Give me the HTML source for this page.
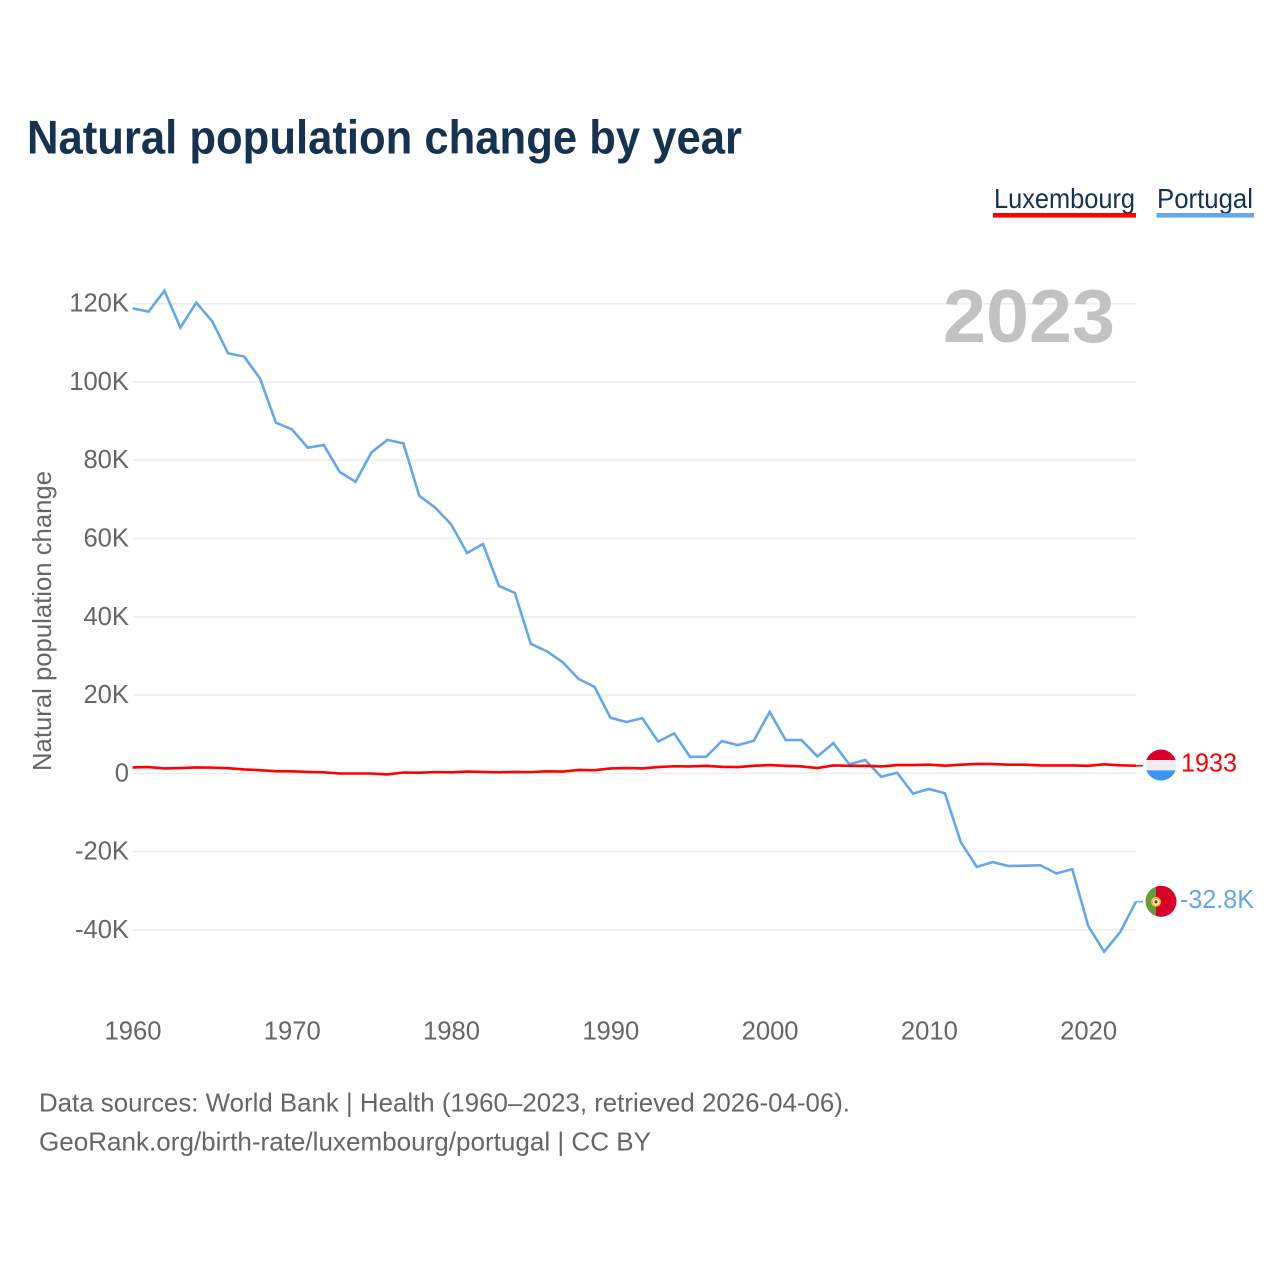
<!DOCTYPE html>
<html lang="en">
<head>
<meta charset="utf-8">
<title>Natural population change by year</title>
<style>
html,body{margin:0;padding:0;background:#fff;}
svg{display:block;font-family:"Liberation Sans",sans-serif;}
</style>
</head>
<body>
<svg id="chart" xmlns="http://www.w3.org/2000/svg" width="1280" height="1280" viewBox="0 0 1280 1280">
  <defs>
    <clipPath id="lux-clip"><circle id="lux-clip-circle" cx="1161" cy="765" r="15.5"/></clipPath>
    <clipPath id="prt-clip"><circle id="prt-clip-circle" cx="1161" cy="901" r="15.5"/></clipPath>
  </defs>
  <rect width="1280" height="1280" fill="#ffffff"/>
  <text x="27" y="153.5" font-size="47.6" font-weight="700" fill="#16324f" textLength="715" lengthAdjust="spacingAndGlyphs">Natural population change by year</text>

  <g>
    <g>
      <text x="994" y="208" font-size="27.5" fill="#16324f" textLength="141" lengthAdjust="spacingAndGlyphs">Luxembourg</text>
      <rect x="993" y="213" width="143" height="4.6" fill="#ff0000"/>
    </g>
    <g>
      <text x="1157" y="208" font-size="27.5" fill="#16324f" textLength="96" lengthAdjust="spacingAndGlyphs">Portugal</text>
      <rect x="1156.5" y="213" width="97.5" height="4.6" fill="#63a7ec"/>
    </g>
  </g>

  <g id="grid"></g>
  <g id="y-ticks"></g>
  <g id="x-ticks"></g>

  <text transform="translate(51,621) rotate(-90)" text-anchor="middle" font-size="25.6" fill="#666666" textLength="300" lengthAdjust="spacingAndGlyphs">Natural population change</text>

  <text x="943" y="342" font-size="75" font-weight="700" fill="#c2c2c2" textLength="172" lengthAdjust="spacingAndGlyphs">2023</text>

  <g id="series"></g>

  <g id="flag-lux">
    <g clip-path="url(#lux-clip)">
      <rect x="1145" y="749" width="32" height="11" fill="#d8002a"/>
      <rect x="1145" y="760" width="32" height="10.3" fill="#eeeeee"/>
      <rect x="1145" y="770.3" width="32" height="11" fill="#3a96f5"/>
    </g>
  </g>
  <g id="flag-prt">
    <g clip-path="url(#prt-clip)">
      <rect x="1145" y="885" width="12" height="32" fill="#6b9a3c"/>
      <rect x="1156" y="885" width="22" height="32" fill="#d8002a"/>
    </g>
    <circle cx="1156" cy="901.5" r="4" fill="#ffffff" stroke="#f2c230" stroke-width="2"/>
    <circle cx="1156" cy="901.5" r="1.6" fill="#d8002a"/>
  </g>
  <text id="label-lux" x="1181" y="771.5" font-size="25.6" fill="#ff0000" textLength="56" lengthAdjust="spacingAndGlyphs"></text>
  <text id="label-prt" x="1180" y="907.5" font-size="25.6" fill="#63a7ec" textLength="74" lengthAdjust="spacingAndGlyphs"></text>

  <g>
    <text x="39" y="1111.5" font-size="25.6" fill="#666666" textLength="811" lengthAdjust="spacingAndGlyphs">Data sources: World Bank | Health (1960–2023, retrieved 2026-04-06).</text>
    <text x="39" y="1150.5" font-size="25.6" fill="#666666" textLength="612" lengthAdjust="spacingAndGlyphs">GeoRank.org/birth-rate/luxembourg/portugal | CC BY</text>
  </g>
</svg>

<script>
const years = [1960,1961,1962,1963,1964,1965,1966,1967,1968,1969,1970,1971,1972,1973,1974,1975,1976,1977,1978,1979,1980,1981,1982,1983,1984,1985,1986,1987,1988,1989,1990,1991,1992,1993,1994,1995,1996,1997,1998,1999,2000,2001,2002,2003,2004,2005,2006,2007,2008,2009,2010,2011,2012,2013,2014,2015,2016,2017,2018,2019,2020,2021,2022,2023];
const portugalValues = [118800,118000,123300,113900,120300,115500,107300,106500,100900,89600,87900,83200,83900,77000,74500,82000,85200,84300,70900,67900,63600,56300,58600,47900,46100,33100,31200,28400,24100,22100,14200,13100,14100,8100,10200,4200,4200,8250,7200,8300,15700,8500,8500,4300,7700,2300,3400,-900,150,-5200,-4000,-5100,-17600,-23900,-22700,-23700,-23600,-23500,-25600,-24500,-39000,-45600,-40600,-32800];
const luxembourgValues = [1500,1600,1250,1350,1500,1450,1300,1000,800,550,500,350,250,-50,-50,-50,-300,200,150,300,250,450,350,250,350,300,500,450,850,800,1250,1350,1250,1600,1800,1750,1900,1650,1600,1900,2100,1900,1750,1350,2000,1900,1900,1750,2100,2100,2200,1950,2200,2400,2350,2200,2200,2000,2000,2000,1900,2300,2050,1933];
const yTickValues = [120000,100000,80000,60000,40000,20000,0,-20000,-40000];
const yTickLabels = ["120K","100K","80K","60K","40K","20K","0","-20K","-40K"];
const xTickValues = [1960,1970,1980,1990,2000,2010,2020];

const NS = "http://www.w3.org/2000/svg";
function xScale(year){ return 132.6 + (year - 1960) * (1136 - 132.6) / 63; }
function yScale(v){ return 773.3 - v * (469.6 / 120000); }
function make(tag, attrs, parent){
  const el = document.createElementNS(NS, tag);
  for (const k in attrs) el.setAttribute(k, attrs[k]);
  parent.appendChild(el);
  return el;
}
function formatValue(v){
  if (Math.abs(v) >= 10000) return (v / 1000).toFixed(1) + "K";
  return String(v);
}

const gridG = document.getElementById("grid");
const yG = document.getElementById("y-ticks");
const xG = document.getElementById("x-ticks");
const seriesG = document.getElementById("series");

yTickValues.forEach(function(v, i){
  const line = make("line", {x1:133, x2:1136, y1:yScale(v), y2:yScale(v), stroke:"#eeeeee", "stroke-width":1.6}, gridG);
  
  
  const t = make("text", {x:129, y:yScale(v)+8, "text-anchor":"end", "font-size":25.6, fill:"#666666"}, yG);
  
  
  t.textContent = yTickLabels[i];
});

xTickValues.forEach(function(y){
  const t = make("text", {x:xScale(y)+0.4, y:1039.5, "text-anchor":"middle", "font-size":25.6, fill:"#666666"}, xG);
  
  
  t.textContent = String(y);
});

function drawSeries(values, color, width, seriesName){
  const pts = values.map(function(v, i){ return xScale(years[i]).toFixed(2) + "," + yScale(v).toFixed(2); }).join(" ");
  const line = make("polyline", {points:pts, fill:"none", stroke:color, "stroke-width":width, "stroke-linejoin":"miter"}, seriesG);
  
  
  const last = yScale(values[values.length - 1]);
  const conn = make("line", {x1:1136, x2:1143, y1:last, y2:last, stroke:color, "stroke-width":1.5}, seriesG);
  
  
  return last;
}
const prtY = drawSeries(portugalValues, "#63a7ec", 2.6, "portugal");
const luxY = drawSeries(luxembourgValues, "#ff0000", 2.6, "luxembourg");

document.getElementById("flag-lux").setAttribute("transform", "translate(0," + (luxY - 765.7).toFixed(2) + ")");
document.getElementById("flag-prt").setAttribute("transform", "translate(0," + (prtY - 901.3).toFixed(2) + ")");
document.getElementById("lux-clip-circle").setAttribute("cy", 765);
document.getElementById("prt-clip-circle").setAttribute("cy", 901);

const labelLux = document.getElementById("label-lux");
labelLux.textContent = formatValue(luxembourgValues[luxembourgValues.length - 1]);
labelLux.setAttribute("y", (luxY + 5.8).toFixed(2));
const labelPrt = document.getElementById("label-prt");
labelPrt.textContent = formatValue(portugalValues[portugalValues.length - 1]);
labelPrt.setAttribute("y", (prtY + 6.2).toFixed(2));
</script>
</body>
</html>
